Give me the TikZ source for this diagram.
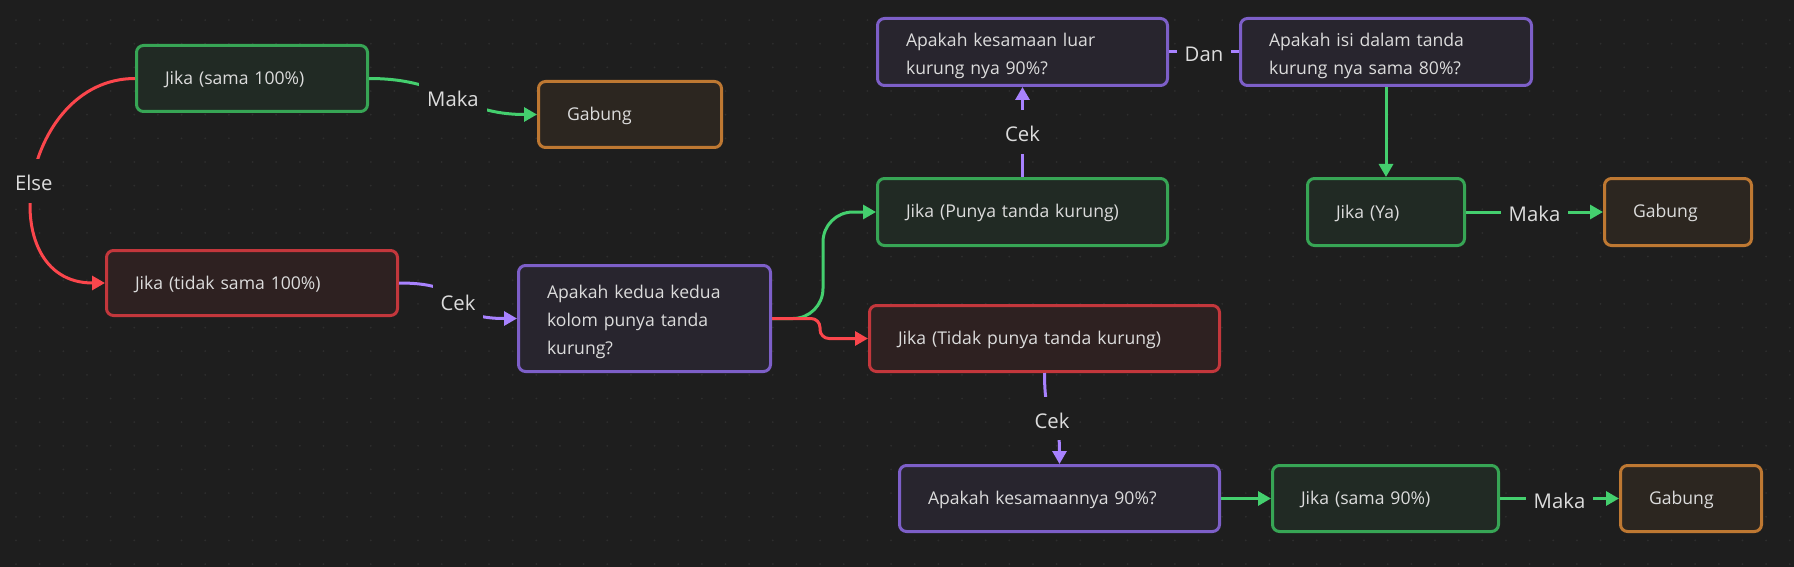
\documentclass[tikz,border=0pt]{standalone}
\usepackage{fontspec}
\setmainfont{Open Sans}
\usetikzlibrary{arrows.meta}
\definecolor{bg}{HTML}{1E1E1E}
\definecolor{dotc}{HTML}{2E2E2E}
\definecolor{txt}{HTML}{DCDCDC}
\definecolor{cGreen}{HTML}{44CF6E}
\definecolor{cRed}{HTML}{FB464C}
\definecolor{cPurple}{HTML}{A882FF}
\definecolor{bGreen}{HTML}{37A555}
\definecolor{bRed}{HTML}{C3373C}
\definecolor{bPurple}{HTML}{7D5FC8}
\definecolor{bOrange}{HTML}{BE7832}
\definecolor{fGreen}{HTML}{212A24}
\definecolor{fRed}{HTML}{2E2121}
\definecolor{fPurple}{HTML}{28252E}
\definecolor{fOrange}{HTML}{2C2620}
\newcommand\nodefont{\fontsize{17.6}{28}\selectfont}
\newcommand\lblfont{\fontsize{20.3}{24}\selectfont}
\tikzset{
  box/.style={rounded corners=7pt, line width=3pt, inner xsep=28.5pt, inner ysep=0pt,
    align=left, text=txt, font=\nodefont, execute at begin node={\rule{0pt}{16pt}}},
  multi/.style={execute at begin node={\rule{0pt}{21pt}}},
  gbox/.style={box, draw=bGreen, fill=fGreen},
  rbox/.style={box, draw=bRed, fill=fRed},
  pbox/.style={box, draw=bPurple, fill=fPurple},
  obox/.style={box, draw=bOrange, fill=fOrange},
  conn/.style={line width=3pt, -{Triangle[length=13pt,width=14pt]}},
  gline/.style={conn, draw=cGreen},
  rline/.style={conn, draw=cRed},
  pline/.style={conn, draw=cPurple},
  plain/.style={line width=3pt, draw=cPurple},
  elabel/.style={fill=bg, text=txt, font=\lblfont, inner xsep=8pt, inner ysep=12pt,
    text height=19.5pt, text depth=-1.5pt}
}
\begin{document}
\begin{tikzpicture}[x=1pt,y=-1pt]
\fill[bg] (0,0) rectangle (1794,567);
\useasboundingbox (0,0) rectangle (1794,567);
\foreach \i in {0,...,75}{
  \foreach \j in {0,...,23}{
    \fill[dotc] ({16+23.65*\i},{20.1+23.65*\j}) circle (1pt);
  }
}
% nodes
\node[gbox, minimum width=231pt, minimum height=66pt, text width=174pt] (a1) at (252,78.5) {Jika (sama 100\%)};
\node[obox, minimum width=183pt, minimum height=66pt, text width=126pt] (g1) at (630,114.5) {Gabung};
\node[rbox, minimum width=291pt, minimum height=65pt, text width=234pt] (r1) at (252,283) {Jika (tidak sama 100\%)};
\node[pbox, multi, minimum width=252pt, minimum height=106pt, text width=195pt] (p1) at (644.5,318.5) {Apakah kedua kedua\\kolom punya tanda\\kurung?};
\node[gbox, minimum width=290pt, minimum height=67pt, text width=233pt] (gk) at (1022.5,212) {Jika (Punya tanda kurung)};
\node[pbox, multi, minimum width=290pt, minimum height=67pt, text width=233pt] (pl) at (1022.5,52) {Apakah kesamaan luar\\kurung nya 90\%?};
\node[pbox, multi, minimum width=291pt, minimum height=67pt, text width=234pt] (pi) at (1386,52) {Apakah isi dalam tanda\\kurung nya sama 80\%?};
\node[gbox, minimum width=157pt, minimum height=67pt, text width=100pt] (ya) at (1386,212) {Jika (Ya)};
\node[obox, minimum width=147pt, minimum height=67pt, text width=90pt] (g2) at (1678,212) {Gabung};
\node[rbox, minimum width=350pt, minimum height=66pt, text width=293pt] (tp) at (1044.5,338.5) {Jika (Tidak punya tanda kurung)};
\node[pbox, minimum width=320pt, minimum height=66pt, text width=263pt] (pk) at (1059.5,498.5) {Apakah kesamaannya 90\%?};
\node[gbox, minimum width=226pt, minimum height=66pt, text width=169pt] (s90) at (1385.5,498.5) {Jika (sama 90\%)};
\node[obox, minimum width=141pt, minimum height=66pt, text width=84pt] (g3) at (1691,498.5) {Gabung};
% connectors
\draw[rline] (a1.west) .. controls +(-115,0) and +(-115,0) .. (r1.west) node[pos=0.5, elabel] {Else};
\draw[gline] (a1.east) .. controls +(80,0) and +(-80,0) .. (g1.west) node[pos=0.5, elabel] {Maka};
\draw[pline] (r1.east) .. controls +(80,0) and +(-80,0) .. (p1.west) node[pos=0.5, elabel] {Cek};
\draw[gline, rounded corners=30pt] (p1.east) -- ++(51,0) |- (gk.west);
\draw[rline, rounded corners=9pt] (p1.east) -- ++(48,0) |- (tp.west);
\draw[pline] (gk.north) -- (pl.south) node[midway, elabel] {Cek};
\draw[plain] (pl.east) -- (pi.west) node[midway, elabel] {Dan};
\draw[gline] (pi.south) -- (ya.north);
\draw[gline] (ya.east) -- (g2.west) node[midway, elabel] {Maka};
\draw[pline] (tp.south) .. controls +(0,60) and +(0,-60) .. (pk.north) node[pos=0.5, elabel] {Cek};
\draw[gline] (pk.east) -- (s90.west);
\draw[gline] (s90.east) -- (g3.west) node[midway, elabel] {Maka};
\end{tikzpicture}
\end{document}
